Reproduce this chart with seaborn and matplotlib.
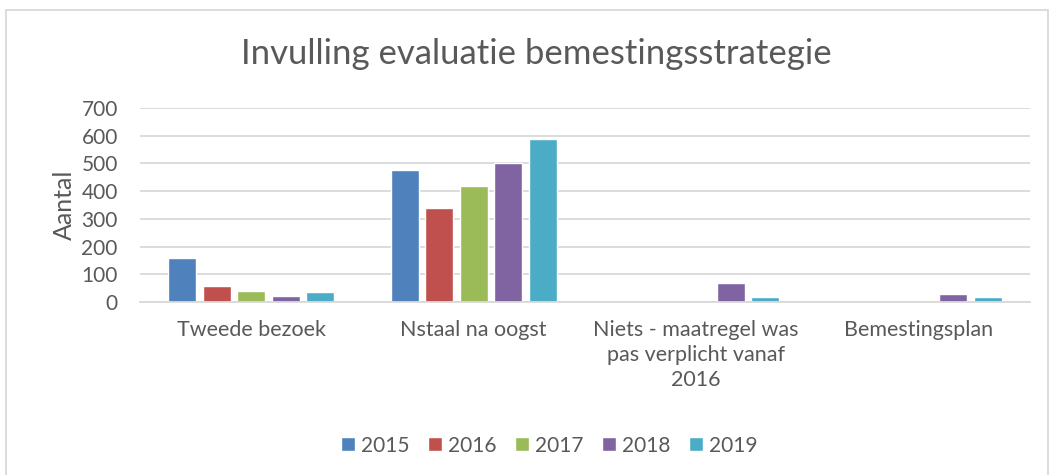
import pandas as pd
import matplotlib.pyplot as plt
import seaborn as sns
from matplotlib.patches import Rectangle

# Data
categories = ["Tweede bezoek", "Nstaal na oogst",
              "Niets - maatregel was\npas verplicht vanaf\n2016", "Bemestingsplan"]
years = ["2015", "2016", "2017", "2018", "2019"]
v2015 = [158, 477, 0, 0]
v2016 = [58, 338, 0, 0]
v2017 = [38, 420, 0, 0]
v2018 = [20, 500, 69, 30]
v2019 = [36, 589, 17, 17]
colors = ["#4F81BD", "#C0504D", "#9BBB59", "#8064A2", "#4BACC6"]

rows = []
for year, vals in zip(years, [v2015, v2016, v2017, v2018, v2019]):
    for cat, v in zip(categories, vals):
        rows.append({"Categorie": cat, "Jaar": year, "Aantal": v})
df = pd.DataFrame(rows)

sns.set_style("white")
plt.rcParams['font.family'] = ['Lato', 'DejaVu Sans']
text_col = "#595959"

fig = plt.figure(figsize=(10.55, 4.75), dpi=100)
ax = fig.add_axes([0.1327, 0.3642, 0.8436, 0.4084])

sns.barplot(data=df, x="Categorie", y="Aantal", hue="Jaar", hue_order=years,
            palette=colors, width=0.775, gap=0.2, ax=ax, saturation=1)

ax.set_ylim(0, 700)
ax.set_xlim(-0.5, 3.5)
ax.set_yticks(range(0, 701, 100))
ax.yaxis.grid(True, color="#d9d9d9", linewidth=1.3)
ax.set_axisbelow(True)
for s in ["top", "right", "left"]:
    ax.spines[s].set_visible(False)
ax.spines["bottom"].set_color("#d9d9d9")
ax.spines["bottom"].set_linewidth(1.3)
ax.tick_params(axis="y", length=0, pad=16, labelsize=15, labelcolor=text_col)
ax.tick_params(axis="x", length=0, pad=13, labelsize=15.5, labelcolor=text_col)
for lbl in ax.get_xticklabels():
    lbl.set_linespacing(1.3)
ax.set_xlabel("")
ax.set_ylabel("Aantal", fontsize=18, color=text_col, labelpad=4)

fig.suptitle("Invulling evaluatie bemestingsstrategie", fontsize=25,
             color=text_col, x=0.508, y=0.92)

leg = ax.legend(loc="center", bbox_to_anchor=(0.46, -0.74), ncol=5, frameon=False,
                fontsize=15, handlelength=0.65, handleheight=0.65, handletextpad=0.3,
                columnspacing=0.9)
for t in leg.get_texts():
    t.set_color(text_col)

# light border around the chart area
fig.patches.append(Rectangle((6 / 1055, -0.05), 1042 / 1055, 1 - 10 / 475 + 0.05,
                             transform=fig.transFigure, fill=False,
                             edgecolor="#d9d9d9", linewidth=1.3))

fig.savefig("out.png", dpi=100)
